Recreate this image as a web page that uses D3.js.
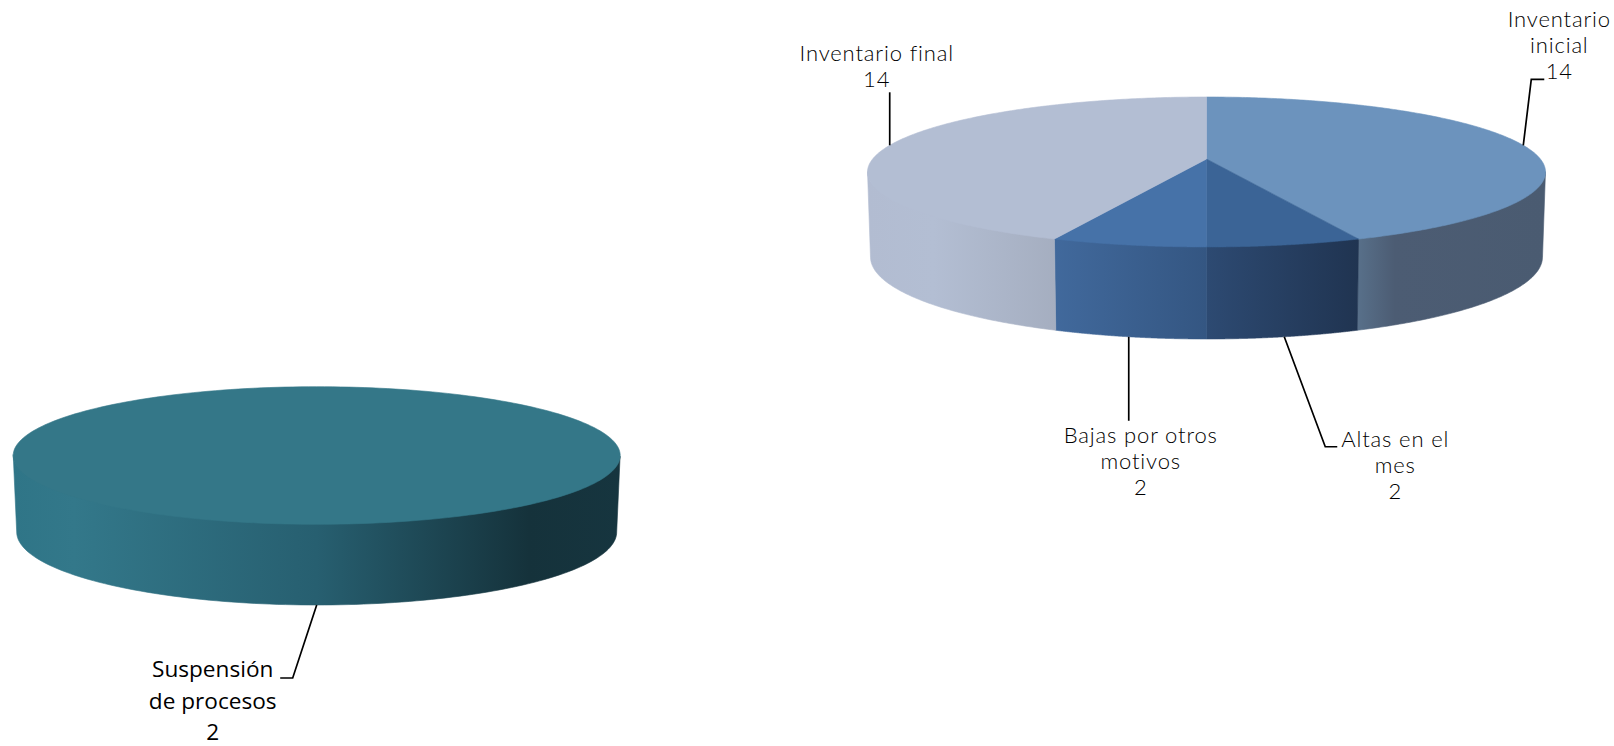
<!DOCTYPE html>
<html>
<head>
<meta charset="utf-8">
<script src="https://cdn.jsdelivr.net/npm/d3@7"></script>
<style>
	html, body { margin: 0; padding: 0; background: #fff; }
	svg { display: block; }
</style>
</head>
<body>
<svg id="chart"></svg>
<script>
// values
const leftNames = [["Suspensión", "de procesos"]];
const leftValues = [2];
const rightNames = [["Inventario", "inicial"], ["Altas en el", "mes"], ["Bajas por otros", "motivos"], ["Inventario final"]];
const rightValues = [14, 2, 2, 14];

const leftColors = ["#347788"];
const leftSides = [[[0, "#2f7587"], [0.1, "#33788a"], [0.5, "#275f70"], [0.85, "#15323b"], [1, "#16353f"]]];
const rightColors = ["#6c93bd", "#3b6496", "#4672a8", "#b3bed3"];
const rightSides = [
	[[0, "#58708a"], [0.2, "#4c5c73"], [1, "#4a5b71"]],
	[[0, "#2d4a72"], [1, "#203451"]],
	[[0, "#41699c"], [1, "#345682"]],
	[[0, "#b2bcd1"], [0.35, "#b3bed3"], [1, "#a5aec0"]],
];

const width = 1614, height = 746;
const svg = d3.select("#chart").attr("width", width).attr("height", height).attr("viewBox", [0, 0, width, height]);
const defs = svg.append("defs");

// c moves the pie's centre up the ellipse, like the perspective of the 3d pie
function project(angle, c) {
	const u = Math.sin(angle), v = Math.cos(angle), k = 1 + c * v;
	return [u * Math.sqrt(1 - c * c) / k, (v + c) / k];
}

function ellipseScales(e) {
	return {
		x: d3.scaleLinear().domain([-1, 1]).range([e.cx - e.rx, e.cx + e.rx]),
		y: d3.scaleLinear().domain([-1, 1]).range([e.cy + e.ry, e.cy - e.ry]),
	};
}

function drawPie(id, values, names, colors, sides, opt) {
	const top = ellipseScales(opt.top), bottom = ellipseScales(opt.bottom);
	const arcs = d3.pie().sort(null).startAngle(0).endAngle(2 * Math.PI)(values);
	const g = svg.append("g");
	const onEllipse = (s, p) => [s.x(p[0]), s.y(p[1])];
	const line = d3.line();

	// sides first, only the part of each slice on the near half of the rim
	arcs.forEach((d, i) => {
		const angles = d3.range(0, 241).map((j) => d.startAngle + (d.endAngle - d.startAngle) * j / 240);
		const front = angles.map((a) => project(a, opt.c)).filter((p) => p[1] <= 0);
		if (!front.length) return;
		// pushed up a little under the top face so no seam shows
		const upper = front.map((p) => onEllipse(top, p)).map(([x, y]) => [x, y - 1]);
		const pts = upper.concat(front.slice().reverse().map((p) => onEllipse(bottom, p)));
		const [x0, x1] = d3.extent(pts, (p) => p[0]);
		const grad = defs.append("linearGradient")
			.attr("id", `${id}-side-${i}`)
			.attr("gradientUnits", "userSpaceOnUse")
			.attr("x1", x0).attr("x2", x1).attr("y1", 0).attr("y2", 0);
		sides[i].forEach(([o, col]) => grad.append("stop").attr("offset", o).attr("stop-color", col));
		g.append("path")
			.attr("d", line(pts) + "Z")
			.attr("fill", `url(#${id}-side-${i})`)
			.attr("stroke", `url(#${id}-side-${i})`)
			.attr("stroke-width", 0.6);
	});

	// top face
	arcs.forEach((d, i) => {
		const angles = d3.range(0, 241).map((j) => d.startAngle + (d.endAngle - d.startAngle) * j / 240);
		const pts = angles.map((a) => onEllipse(top, project(a, opt.c)));
		if (arcs.length > 1) pts.push(onEllipse(top, [0, opt.c]));
		g.append("path")
			.attr("d", line(pts) + "Z")
			.attr("fill", colors[i])
			.attr("stroke", colors[i])
			.attr("stroke-width", 0.6);
	});

	// leader lines start on the rim at each slice's middle angle
	arcs.forEach((d, i) => {
		const p = project((d.startAngle + d.endAngle) / 2, opt.c);
		const a = onEllipse(p[1] < 0 ? bottom : top, p);
		const lay = opt.labels[i];
		const pts = [a].concat(lay.leader.map(([dx, dy]) => [a[0] + dx, a[1] + dy]));
		g.append("path")
			.attr("d", line(pts))
			.attr("fill", "none")
			.attr("stroke", "#000")
			.attr("stroke-width", 1.7);
		const lines = names[i].concat(String(values[i]));
		const text = g.append("text")
			.attr("text-anchor", "middle")
			.attr("font-family", opt.font)
			.attr("font-size", opt.fontSize)
			.attr("font-weight", opt.fontWeight)
			.attr("letter-spacing", opt.spacing)
			.attr("fill", opt.textColor);
		lines.forEach((t, j) => {
			text.append("tspan")
				.attr("x", a[0] + lay.text[0])
				.attr("y", a[1] + lay.text[1] + j * opt.lineHeight)
				.text(t);
		});
	});
}

drawPie("left", leftValues, leftNames, leftColors, leftSides, {
	c: 0,
	top: { cx: 316.7, cy: 455.5, rx: 303.5, ry: 68.8 },
	bottom: { cx: 316.7, cy: 532, rx: 300, ry: 73 },
	font: "'Open Sans'", fontSize: 22.6, fontWeight: 400, spacing: 0, textColor: "#000", lineHeight: 31.5,
	labels: [{ leader: [[-24, 73], [-36.5, 73]], text: [-104, 72] }],
});

drawPie("right", rightValues, rightNames, rightColors, rightSides, {
	c: 0.173,
	top: { cx: 1206.5, cy: 172, rx: 339, ry: 75 },
	bottom: { cx: 1206.5, cy: 257, rx: 336, ry: 82 },
	font: "Lato", fontSize: 22, fontWeight: 300, spacing: 0.85, textColor: "#000", lineHeight: 26,
	labels: [
		{ leader: [[8, -66], [21, -66]], text: [36, -118] },
		{ leader: [[41, 110], [53, 110]], text: [111, 110] },
		{ leader: [[0, 84]], text: [12, 106] },
		{ leader: [[0, -53]], text: [-13, -84] },
	],
});
</script>
</body>
</html>
